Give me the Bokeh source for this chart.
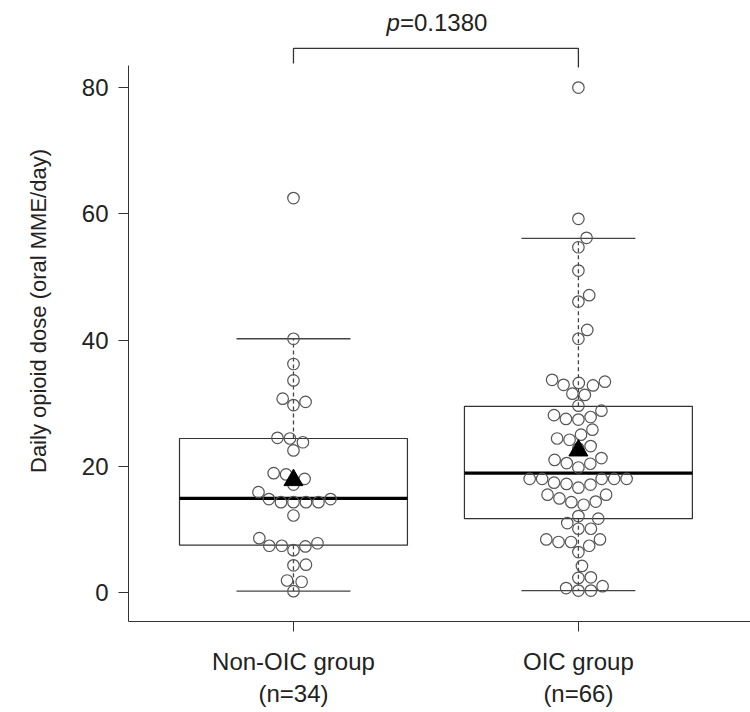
import numpy as np
from bokeh.plotting import figure
from bokeh.models import Range1d, FixedTicker
from bokeh.core.properties import value
from bokeh.embed import file_html
from bokeh.resources import INLINE

# ---- data -------------------------------------------------------------
groups = ["Non-OIC group", "OIC group"]
group_n = [34, 66]

non_oic = [62.5, 40.2, 36.2, 33.6, 30.7, 30.2, 29.7, 24.4, 24.5, 23.8, 22.5,
           18.7, 18.9, 18.0, 17.1, 15.9, 14.8, 14.3, 14.3, 14.3, 14.3, 14.8,
           12.2, 8.6, 7.8, 7.3, 7.4, 7.4, 6.7, 4.3, 4.4, 1.9, 1.7, 0.2]

oic = [80.0, 59.2, 56.2, 54.7, 51.0, 47.1, 46.1, 41.6, 40.2,
       33.7, 32.8, 33.2, 32.9, 33.4, 31.5, 31.3, 29.6, 28.8, 27.5, 27.4,
       27.8, 28.1, 25.8, 25.0, 24.4, 24.2, 23.2, 22.8, 21.3, 20.4, 19.8,
       20.5, 21.0, 18.0, 18.0, 18.0, 18.0, 18.0, 17.1, 16.6, 17.2, 17.4,
       15.5, 14.3, 13.9, 14.4, 14.9, 15.5, 12.1, 11.7, 11.0, 10.1, 10.1,
       8.4, 8.0, 8.0, 7.4, 8.4, 6.4, 4.2, 2.4, 2.3, 0.7, 0.3, 0.3, 1.0]

q1 = [7.5, 11.7]
median = [14.9, 18.9]
q3 = [24.4, 29.5]
whisker_low = [0.2, 0.3]
whisker_high = [40.2, 56.1]
means = [17.8, 22.5]
p_value = 0.1380
y_ticks = [0, 20, 40, 60, 80]
y_title = "Daily opioid dose (oral MME/day)"

# ---- geometry ---------------------------------------------------------
W, H = 750, 712
LEFT, RIGHT, TOP, BOTTOM = 128, 0, 0, 91
x_start, x_end = 0.421, 2.604
y_start, y_end = -4.6, 93.8
axis_top = 83.5

px_per_x = (W - LEFT - RIGHT) / (x_end - x_start)
px_per_y = (H - TOP - BOTTOM) / (y_end - y_start)

positions = [1, 2]
box_w = 0.8
cap_w = 0.4
dot_d = 12.5  # swarm spacing in px


def swarm(vals, diameter):
    """Swarm layout: each point takes the free spot closest to the centre."""
    ys = np.asarray(vals, dtype=float) * px_per_y
    order = np.argsort(ys, kind="stable")
    xs = np.zeros(len(ys))
    placed = []
    for i in order:
        y = ys[i]
        cands = [0.0]
        for xj, yj in placed:
            dy = y - yj
            if abs(dy) < diameter:
                dx = np.sqrt(diameter ** 2 - dy ** 2)
                cands += [xj + dx, xj - dx]
        cands = sorted(cands, key=lambda c: (round(abs(c), 6), -c))
        for c in cands:
            if all((c - xj) ** 2 + (y - yj) ** 2 >= diameter ** 2 - 1e-6
                   for xj, yj in placed):
                xs[i] = c
                break
        placed.append((xs[i], y))
    return xs / px_per_x


FONT = "Liberation Sans"
INK = "#222222"
TXT = "24px"

p = figure(width=W, height=H, output_backend="svg", toolbar_location=None,
           x_range=Range1d(x_start, x_end), y_range=Range1d(y_start, y_end),
           min_border_left=LEFT, min_border_right=RIGHT,
           min_border_top=TOP, min_border_bottom=BOTTOM,
           background_fill_color="white", border_fill_color="white")
p.outline_line_color = None
p.xgrid.grid_line_color = None
p.ygrid.grid_line_color = None

# boxes
p.quad(left=[x - box_w / 2 for x in positions],
       right=[x + box_w / 2 for x in positions],
       bottom=q1, top=q3, fill_color=None, line_color="#333333", line_width=1.2)
# whiskers
p.segment(x0=positions, y0=q3, x1=positions, y1=whisker_high,
          line_color="#444444", line_width=1.3, line_dash="4 3")
p.segment(x0=positions, y0=q1, x1=positions, y1=whisker_low,
          line_color="#444444", line_width=1.3, line_dash="4 3")
# caps
p.segment(x0=[x - cap_w / 2 for x in positions], y0=whisker_high,
          x1=[x + cap_w / 2 for x in positions], y1=whisker_high,
          line_color="#444444", line_width=1.3)
p.segment(x0=[x - cap_w / 2 for x in positions], y0=whisker_low,
          x1=[x + cap_w / 2 for x in positions], y1=whisker_low,
          line_color="#444444", line_width=1.3)
# medians
p.segment(x0=[x - box_w / 2 for x in positions], y0=median,
          x1=[x + box_w / 2 for x in positions], y1=median,
          line_color="black", line_width=3.2)

# individual patients
for pos, vals in zip(positions, [non_oic, oic]):
    offs = swarm(vals, dot_d)
    p.scatter(x=pos + offs, y=vals, marker="circle", size=11.5,
              fill_color=None, line_color="#555555", line_width=1.2)

# means
p.scatter(x=positions, y=means, marker="triangle", size=19,
          fill_color="black", line_color="black")

# significance bracket
bracket_y = 86.2
p.line(x=[positions[0], positions[0], positions[1], positions[1]],
       y=[axis_top + 0.3, bracket_y, bracket_y, axis_top - 0.3],
       line_color="#333333", line_width=1.3)
mid = (positions[0] + positions[1]) / 2
p.text(x=[mid], y=[90.3], text=["p"], text_font=value(FONT),
       text_font_size=TXT, text_font_style="italic", text_color=INK,
       text_align="right", text_baseline="middle", x_offset=-36)
p.text(x=[mid], y=[90.3], text=[f"={p_value:.4f}"], text_font=value(FONT),
       text_font_size=TXT, text_color=INK,
       text_align="left", text_baseline="middle", x_offset=-36)

# axes
xa = p.xaxis[0]
xa.ticker = FixedTicker(ticks=positions)
xa.major_label_overrides = {pos: f"{g}\n(n={n})"
                            for pos, g, n in zip(positions, groups, group_n)}
xa.minor_tick_line_color = None
xa.major_tick_in = 0
xa.major_tick_out = 10
xa.major_label_standoff = 16
xa.major_label_text_font = FONT
xa.major_label_text_font_size = TXT
xa.major_label_text_color = INK
xa.axis_line_color = "#333333"
xa.major_tick_line_color = "#333333"
xa.bounds = (x_start, x_end)

ya = p.yaxis[0]
ya.ticker = FixedTicker(ticks=y_ticks)
ya.minor_tick_line_color = None
ya.major_tick_in = 0
ya.major_tick_out = 10
ya.major_label_standoff = 10
ya.major_label_text_font = FONT
ya.major_label_text_font_size = TXT
ya.major_label_text_color = INK
ya.axis_line_color = "#333333"
ya.major_tick_line_color = "#333333"
ya.bounds = (y_start, axis_top)
ya.axis_label = y_title
ya.axis_label_text_font = FONT
ya.axis_label_text_font_size = "22px"
ya.axis_label_text_font_style = "normal"
ya.axis_label_text_color = INK
ya.axis_label_standoff = 28

open("out.html", "w").write(file_html(p, INLINE))
